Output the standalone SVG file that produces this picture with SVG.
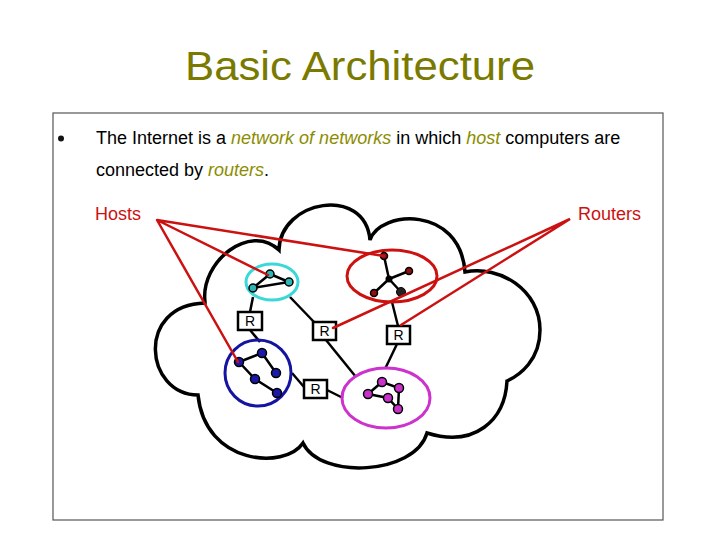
<svg xmlns="http://www.w3.org/2000/svg" width="720" height="540" viewBox="0 0 720 540">
<style>
.title{font-family:"Liberation Sans",Arial,sans-serif;font-size:40px;fill:#7a7a00}
.body{font-family:"Liberation Sans",Arial,sans-serif;font-size:18px;fill:#000}
.em{font-style:italic;fill:#8c8c00}
.lbl{font-family:"Liberation Sans",Arial,sans-serif;font-size:18px;fill:#cc1111}
.rtxt{font-family:"Liberation Sans",Arial,sans-serif;font-size:14px;fill:#000;text-anchor:middle}
.rbox{fill:#fff;stroke:#000;stroke-width:2.5}
.wire{stroke:#000;stroke-width:2.5;fill:none}
.red{stroke:#cc1111;stroke-width:2.5;fill:none;stroke-linecap:round}
.hl{stroke:#000;stroke-width:2.5;fill:none}
.ch{fill:#2bb5b5;stroke:#000;stroke-width:1.5}
.rh{fill:#8e1010;stroke:#000;stroke-width:1.5}
.bh{fill:#1a1aa6;stroke:#000;stroke-width:1.5}
.mh{fill:#c832c8;stroke:#000;stroke-width:1.5}
</style>
<rect width="720" height="540" fill="#fff"/>
<text class="title" x="360" y="80" text-anchor="middle" textLength="350" lengthAdjust="spacingAndGlyphs">Basic Architecture</text>
<rect x="53" y="113" width="610" height="407" fill="none" stroke="#555" stroke-width="1.2"/>
<circle cx="61" cy="138.5" r="3" fill="#111"/>
<text class="body" x="96" y="144">The Internet is a <tspan class="em">network of networks</tspan> in which <tspan class="em">host</tspan> computers are</text>
<text class="body" x="96" y="176">connected by <tspan class="em">routers</tspan>.</text>
<g id="cloud">
<path d="M205,302 C200,262 250,222 279,250 C280,200 365,185 370,240 C380,210 460,205 465,272 C500,265 540,290 540,330 C540,360 520,375 507,381 C505,420 475,448 427,433 C415,475 320,480 303,443 C285,470 205,465 198,395 C145,395 135,305 205,303 Z" fill="none" stroke="#000" stroke-width="3.5" stroke-linejoin="miter"/>
</g>
<g id="connectors">
<line class="wire" x1="253" y1="297" x2="250" y2="312"/>
<line class="wire" x1="250" y1="330" x2="260" y2="342"/>
<line class="wire" x1="290" y1="297" x2="314" y2="322"/>
<line class="wire" x1="326" y1="340" x2="356" y2="377"/>
<line class="wire" x1="392" y1="302" x2="398" y2="326"/>
<line class="wire" x1="397" y1="344" x2="385" y2="369"/>
<line class="wire" x1="292" y1="373" x2="304" y2="387"/>
<line class="wire" x1="327" y1="390" x2="343" y2="398"/>
</g>
<g id="net-cyan">
<ellipse cx="272" cy="282" rx="26" ry="18" fill="none" stroke="#3ad8d8" stroke-width="3"/>
<path class="hl" d="M253,288 L270,274 L289,282 Z"/>
<circle class="ch" cx="270" cy="274" r="4"/>
<circle class="ch" cx="289" cy="282" r="4"/>
<circle class="ch" cx="253" cy="288" r="4"/>
</g>
<g id="net-red">
<ellipse cx="392" cy="276" rx="45" ry="26" fill="none" stroke="#cc1111" stroke-width="3"/>
<path class="hl" d="M389,279 L384,256 M389,279 L409,271 M389,279 L374,293 M389,279 L401,292"/>
<circle cx="389" cy="279" r="3.5" fill="#000"/>
<circle class="rh" cx="384" cy="256" r="3.5"/>
<circle class="rh" cx="409" cy="271" r="3.5"/>
<circle class="rh" cx="374" cy="293" r="3.5"/>
<circle cx="401" cy="292" r="4.5" fill="#222" stroke="#000" stroke-width="1"/>
</g>
<g id="net-blue">
<ellipse cx="258" cy="373" rx="33" ry="33" fill="none" stroke="#1414a0" stroke-width="3"/>
<path class="hl" d="M239,362 L262,353 L276,373 M239,362 L255,379 L277,393"/>
<circle class="bh" cx="239" cy="362" r="4.5"/>
<circle class="bh" cx="262" cy="353" r="4.5"/>
<circle class="bh" cx="276" cy="373" r="4.5"/>
<circle class="bh" cx="255" cy="379" r="4.5"/>
<circle class="bh" cx="277" cy="393" r="4.5"/>
</g>
<g id="net-magenta">
<ellipse cx="386" cy="398" rx="44" ry="30" fill="none" stroke="#cc33cc" stroke-width="3"/>
<path class="hl" d="M368,394 L382,382 L399,388 L398,409 L388,398 L368,394"/>
<circle class="mh" cx="382" cy="382" r="4.5"/>
<circle class="mh" cx="399" cy="388" r="4.5"/>
<circle class="mh" cx="368" cy="394" r="4.5"/>
<circle class="mh" cx="388" cy="398" r="4.5"/>
<circle class="mh" cx="398" cy="409" r="4.5"/>
</g>
<g id="router-1"><rect class="rbox" x="238" y="312" width="24" height="18"/><text class="rtxt" x="250" y="326">R</text></g>
<g id="router-2"><rect class="rbox" x="313" y="322" width="23" height="18"/><text class="rtxt" x="324.5" y="336">R</text></g>
<g id="router-3"><rect class="rbox" x="387" y="326" width="23" height="18"/><text class="rtxt" x="398.5" y="340">R</text></g>
<g id="router-4"><rect class="rbox" x="304" y="380" width="23" height="18"/><text class="rtxt" x="315.5" y="394">R</text></g>
<g id="callouts">
<path class="red" d="M384,256 L157,220 L268,275 M157,220 L238,362"/>
<path class="red" d="M333,328 L570,219 L401,325"/>
<text class="lbl" x="95" y="220">Hosts</text>
<text class="lbl" x="641" y="220" text-anchor="end">Routers</text>
</g>
</svg>
